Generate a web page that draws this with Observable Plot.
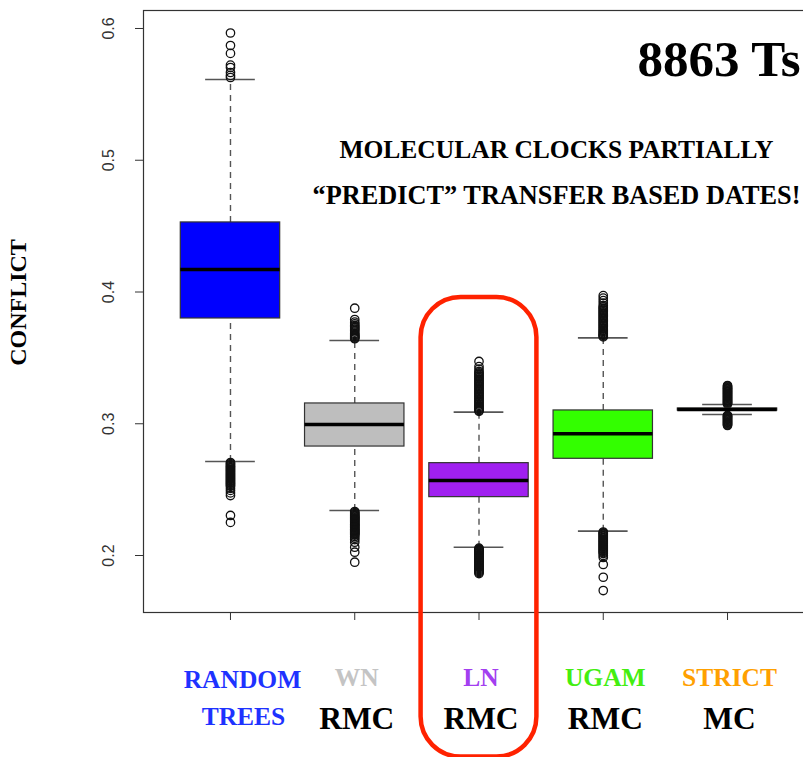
<!DOCTYPE html>
<html>
<head>
<meta charset="utf-8">
<script src="https://cdn.jsdelivr.net/npm/d3@7"></script>
<script src="https://cdn.jsdelivr.net/npm/@observablehq/plot@0.6"></script>
<style>
  html, body { margin: 0; padding: 0; background: #fff; }
  #chart { width: 803px; height: 757px; overflow: hidden; position: relative; }
  #chart svg { max-width: none !important; display: block; }
</style>
</head>
<body>
<div id="chart"></div>
<script>
// ---------- data ----------
const categories   = ["RANDOM TREES", "WN RMC", "LN RMC", "UGAM RMC", "STRICT MC"];
const labelTop     = ["RANDOM", "WN", "LN", "UGAM", "STRICT"];
const labelBottom  = ["TREES", "RMC", "RMC", "RMC", "MC"];
const boxFill      = ["#0000FF", "#BEBEBE", "#A020F0", "#33FF00", "#FFA500"];
const labelColor   = ["#1E32FF", "#C4C4C4", "#A33FF0", "#44EE11", "#FFA000"];
const bottomColor  = ["#1E32FF", "#000000", "#000000", "#000000", "#000000"];

const q1     = [0.3799, 0.2827, 0.2443, 0.2734, 0.3100];
const median = [0.4171, 0.2994, 0.2569, 0.2924, 0.3108];
const q3     = [0.4528, 0.3154, 0.2701, 0.3101, 0.3116];
const whiskerLo = [0.2713, 0.2342, 0.2063, 0.2185, 0.3070];
const whiskerHi = [0.5613, 0.3632, 0.3088, 0.3652, 0.3146];

const outliersRandom = [0.5966, 0.5871, 0.5811, 0.5722, 0.5704, 0.5666, 0.5644, 0.5628,
  0.2706, 0.2698, 0.2690, 0.2682, 0.2675, 0.2668, 0.2661, 0.2653, 0.2645, 0.2638, 0.2630, 0.2622, 0.2615, 0.2607, 0.2600, 0.2592,
  0.2585, 0.2577, 0.2570, 0.2562, 0.2555, 0.2547, 0.2540, 0.2532, 0.2525, 0.2510, 0.2494, 0.2475, 0.2455, 0.2304, 0.2251];
const outliersWN = [0.3877, 0.3791, 0.3771, 0.3758, 0.3746, 0.3737, 0.3727, 0.3717, 0.3708, 0.3696, 0.3685, 0.3677, 0.3670, 0.3663, 0.3657, 0.3651, 0.3645,
  0.2334, 0.2326, 0.2318, 0.2311, 0.2304, 0.2298, 0.2292, 0.2286, 0.2281, 0.2275, 0.2270, 0.2264, 0.2258, 0.2252, 0.2246, 0.2240, 0.2235, 0.2229,
  0.2224, 0.2218, 0.2213, 0.2206, 0.2200, 0.2195, 0.2190, 0.2184, 0.2178, 0.2172, 0.2167, 0.2161, 0.2155, 0.2144, 0.2132, 0.2120, 0.2101, 0.2063, 0.2025, 0.1949];
const outliersLN = [0.3473, 0.3434, 0.3415, 0.3397, 0.3387, 0.3378, 0.3368, 0.3359, 0.3350, 0.3340, 0.3330, 0.3321, 0.3311, 0.3302, 0.3292, 0.3283,
  0.3273, 0.3264, 0.3254, 0.3245, 0.3235, 0.3226, 0.3216, 0.3207, 0.3198, 0.3188, 0.3178, 0.3169, 0.3160, 0.3150, 0.3140, 0.3131, 0.3123, 0.3116, 0.3108, 0.3101, 0.3094,
  0.2056, 0.2050, 0.2044, 0.2038, 0.2032, 0.2025, 0.2020, 0.2015, 0.2008, 0.2000, 0.1992, 0.1985, 0.1978, 0.1970, 0.1962, 0.1955, 0.1948, 0.1940, 0.1932, 0.1924,
  0.1916, 0.1909, 0.1901, 0.1894, 0.1886, 0.1879, 0.1871, 0.1863];
const outliersUGAM = [0.3973, 0.3954, 0.3935, 0.3916, 0.3897, 0.3887, 0.3878, 0.3869, 0.3860, 0.3850, 0.3841, 0.3831, 0.3822, 0.3812, 0.3803, 0.3794, 0.3784,
  0.3775, 0.3765, 0.3756, 0.3746, 0.3737, 0.3727, 0.3718, 0.3708, 0.3700, 0.3692, 0.3684, 0.3677, 0.3671, 0.3665, 0.3659,
  0.2178, 0.2172, 0.2167, 0.2160, 0.2152, 0.2145, 0.2137, 0.2130, 0.2122, 0.2114, 0.2106, 0.2099, 0.2091, 0.2083, 0.2076, 0.2068, 0.2061,
  0.2053, 0.2046, 0.2038, 0.2030, 0.2022, 0.2015, 0.2000, 0.1985, 0.1932, 0.1835, 0.1734];
const outliersStrict = [0.3290, 0.3284, 0.3278, 0.3272, 0.3267, 0.3261, 0.3256, 0.3250, 0.3245, 0.3239, 0.3233, 0.3228, 0.3222, 0.3216, 0.3210, 0.3205,
  0.3199, 0.3193, 0.3188, 0.3182, 0.3176, 0.3171, 0.3165, 0.3160, 0.3154, 0.3150,
  0.3064, 0.3059, 0.3055, 0.3049, 0.3043, 0.3038, 0.3032, 0.3026, 0.3020, 0.3015, 0.3009, 0.3004, 0.2998, 0.2992, 0.2987];
const outlierSets = [outliersRandom, outliersWN, outliersLN, outliersUGAM, outliersStrict];

const yTicks = [0.2, 0.3, 0.4, 0.5, 0.6];
const yDomain = [0.15674, 0.61366];
const xDomain = [0.3, 5.7];
const boxHalf = 0.4;     // boxwex 0.8
const capHalf = 0.2;     // staplewex 0.5

const title = "8863 Ts";
const subtitle1 = "MOLECULAR CLOCKS PARTIALLY";
const subtitle2 = "\u201CPREDICT\u201D TRANSFER BASED DATES!";
const yLabel = "CONFLICT";
// highlight around LN RMC (data units; lower edge extends into the label area)
const highlight = [{x1: 2.534, x2: 3.466, y1: 0.0470, y2: 0.3958}];

// ---------- derived tables ----------
const boxes = categories.map((c, i) => ({
  cat: c, pos: i + 1, q1: q1[i], med: median[i], q3: q3[i],
  lo: whiskerLo[i], hi: whiskerHi[i], fill: boxFill[i],
  top: labelTop[i], bottom: labelBottom[i], topColor: labelColor[i], bottomColor: bottomColor[i]
}));
const outliers = outlierSets.flatMap((arr, i) => arr.map(v => ({pos: i + 1, v})));

const serif = "'Liberation Serif', 'Times New Roman', serif";
const sans = "'Liberation Sans', Arial, sans-serif";

const chart = Plot.plot({
  width: 814, height: 757,
  marginLeft: 143, marginRight: 0, marginTop: 10, marginBottom: 145,
  x: {domain: xDomain, axis: null},
  y: {domain: yDomain, axis: null},
  style: {background: "white", overflow: "visible", maxWidth: "none"},
  marks: [
    Plot.frame({stroke: "#333", strokeWidth: 1.2}),
    Plot.axisY({ticks: yTicks, tickSize: 8, tickFormat: () => "", label: null, stroke: "#333"}),
    Plot.axisX({ticks: boxes.map(d => d.pos), tickSize: 8, tickFormat: () => "", label: null, stroke: "#333"}),
    Plot.text(yTicks, {y: d => d, text: d => d.toFixed(1), frameAnchor: "left", dx: -35, rotate: -90,
      textAnchor: "middle", lineAnchor: "middle", fontSize: 16, fontFamily: sans, fill: "#333"}),
    // whiskers (dashed)
    Plot.ruleX(boxes, {x: "pos", y1: "q3", y2: "hi", stroke: "#555", strokeWidth: 1.4, strokeDasharray: "6,5"}),
    Plot.ruleX(boxes, {x: "pos", y1: "lo", y2: "q1", stroke: "#555", strokeWidth: 1.4, strokeDasharray: "6,5"}),
    // staples
    Plot.ruleY(boxes, {y: "hi", x1: d => d.pos - capHalf, x2: d => d.pos + capHalf, stroke: "#555", strokeWidth: 1.6}),
    Plot.ruleY(boxes, {y: "lo", x1: d => d.pos - capHalf, x2: d => d.pos + capHalf, stroke: "#555", strokeWidth: 1.6}),
    // outliers
    Plot.dot(outliers, {x: "pos", y: "v", r: 4.2, stroke: "#111", strokeWidth: 1.3, fill: "none"}),
    // boxes
    Plot.rect(boxes, {x1: d => d.pos - boxHalf, x2: d => d.pos + boxHalf, y1: "q1", y2: "q3",
      fill: d => d.fill, stroke: "#333", strokeWidth: 1.2}),
    // medians
    Plot.ruleY(boxes, {y: "med", x1: d => d.pos - boxHalf, x2: d => d.pos + boxHalf, stroke: "#000", strokeWidth: 3.5}),
    // category labels
    Plot.text(boxes.slice(0, 1), {x: "pos", text: "top", fill: "topColor", frameAnchor: "bottom", dx: 12, dy: 67,
      fontSize: 25.5, fontWeight: "bold", fontFamily: serif, lineAnchor: "middle"}),
    Plot.text(boxes.slice(1), {x: "pos", text: "top", fill: "topColor", frameAnchor: "bottom", dx: 2, dy: 65,
      fontSize: 25.5, fontWeight: "bold", fontFamily: serif, lineAnchor: "middle"}),
    Plot.text(boxes.slice(0, 1), {x: "pos", text: "bottom", fill: "bottomColor", frameAnchor: "bottom", dx: 13, dy: 104,
      fontSize: 25.5, fontWeight: "bold", fontFamily: serif, lineAnchor: "middle"}),
    Plot.text(boxes.slice(1), {x: "pos", text: "bottom", fill: "bottomColor", frameAnchor: "bottom", dx: 2, dy: 106,
      fontSize: 31.5, fontWeight: "bold", fontFamily: serif, lineAnchor: "middle"}),
    // y label
    Plot.text([yLabel], {text: d => d, frameAnchor: "left", dx: -125, dy: -9, rotate: -90, textAnchor: "middle",
      fontSize: 24, fontWeight: "bold", fontFamily: serif, fill: "#000", lineAnchor: "middle"}),
    // title and subtitle
    Plot.text([title], {text: d => d, frameAnchor: "top-right", dx: -14, dy: 65, textAnchor: "end",
      lineAnchor: "bottom", fontSize: 51, fontWeight: "bold", fontFamily: serif, fill: "#000"}),
    Plot.text([subtitle1], {text: d => d, frameAnchor: "top-left", dx: 413, dy: 147, textAnchor: "middle",
      lineAnchor: "bottom", fontSize: 25.5, fontWeight: "bold", fontFamily: serif, fill: "#000"}),
    Plot.text([subtitle2], {text: d => d, frameAnchor: "top-left", dx: 413, dy: 193, textAnchor: "middle",
      lineAnchor: "bottom", fontSize: 26.3, fontWeight: "bold", fontFamily: serif, fill: "#000"}),
    // highlight
    Plot.rect(highlight, {x1: "x1", x2: "x2", y1: "y1", y2: "y2", rx: 40, ry: 40, fill: "none",
      stroke: "#FF2200", strokeWidth: 4.5, ariaLabel: "highlight"})
  ]
});

// rough hand-drawn edge for the highlight
const ns = "http://www.w3.org/2000/svg";
const defs = document.createElementNS(ns, "defs");
defs.innerHTML = `<filter id="rough" x="-10%" y="-10%" width="120%" height="120%">
  <feTurbulence type="fractalNoise" baseFrequency="1.2" numOctaves="2" seed="3" result="n"/>
  <feDisplacementMap in="SourceGraphic" in2="n" scale="6" xChannelSelector="R" yChannelSelector="G"/>
</filter>`;
chart.insertBefore(defs, chart.firstChild);
const hl = chart.querySelector('g[aria-label="highlight"]');
if (hl) hl.setAttribute("filter", "url(#rough)");

document.getElementById("chart").appendChild(chart);
</script>
</body>
</html>
